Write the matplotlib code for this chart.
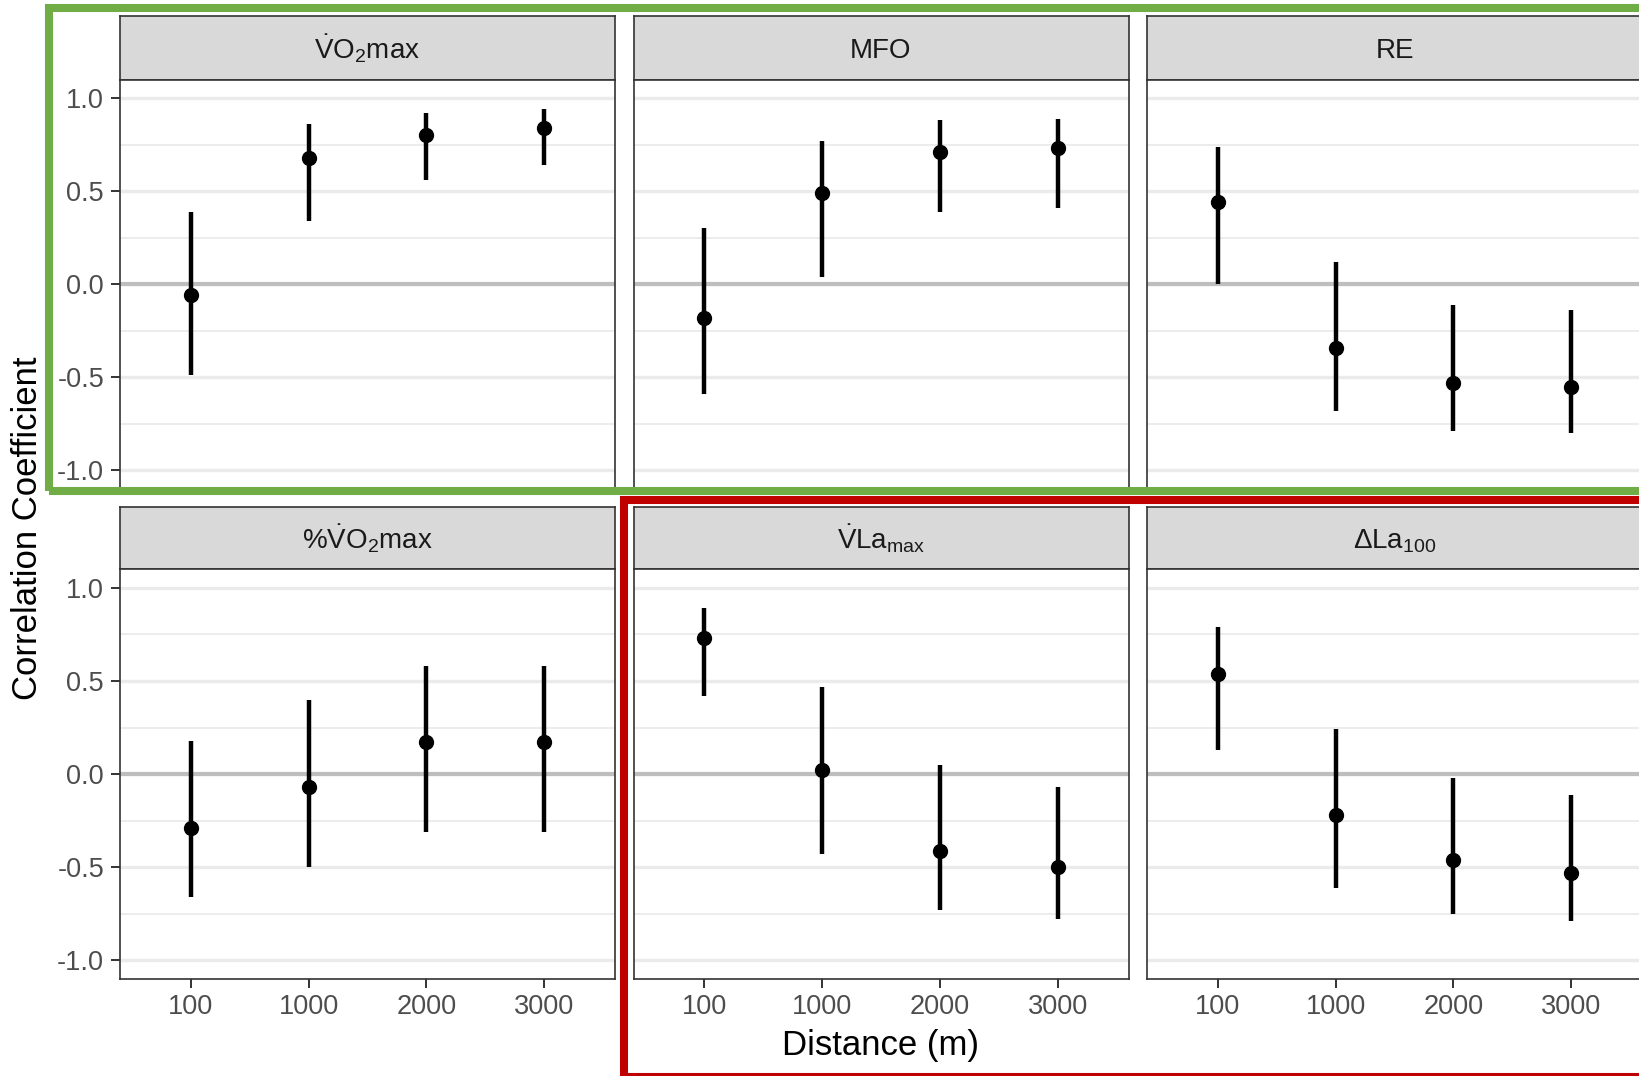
import numpy as np
import matplotlib
matplotlib.use("Agg")
import matplotlib.pyplot as plt
from matplotlib.patches import Rectangle
from matplotlib.ticker import FixedLocator, FormatStrFormatter

plt.rcParams['font.family'] = 'Liberation Sans'
plt.rcParams['mathtext.fontset'] = 'custom'
plt.rcParams['mathtext.rm'] = 'Liberation Sans'
plt.rcParams['mathtext.it'] = 'Liberation Sans:italic'
plt.rcParams['mathtext.bf'] = 'Liberation Sans:bold'
plt.rcParams['axes.unicode_minus'] = False

# Data: correlation r and its CI per swim distance
distances = ['100', '1000', '2000', '3000']

titles = [r'$\dot{\mathrm{V}}\mathrm{O}_2\mathrm{max}$',
          'MFO',
          'RE',
          r'%$\dot{\mathrm{V}}\mathrm{O}_2\mathrm{max}$',
          r'$\dot{\mathrm{V}}\mathrm{La}_{\mathrm{max}}$',
          r'$\Delta\mathrm{La}_{100}$']

vo2max_r = [-0.06, 0.68, 0.80, 0.84]
vo2max_lo = [-0.49, 0.34, 0.56, 0.64]
vo2max_hi = [0.39, 0.86, 0.92, 0.94]

mfo_r = [-0.18, 0.49, 0.71, 0.73]
mfo_lo = [-0.59, 0.04, 0.39, 0.41]
mfo_hi = [0.30, 0.77, 0.88, 0.89]

re_r = [0.44, -0.34, -0.53, -0.55]
re_lo = [0.00, -0.68, -0.79, -0.80]
re_hi = [0.74, 0.12, -0.11, -0.14]

pct_vo2max_r = [-0.29, -0.07, 0.17, 0.17]
pct_vo2max_lo = [-0.66, -0.50, -0.31, -0.31]
pct_vo2max_hi = [0.18, 0.40, 0.58, 0.58]

vlamax_r = [0.73, 0.02, -0.41, -0.50]
vlamax_lo = [0.42, -0.43, -0.73, -0.78]
vlamax_hi = [0.89, 0.47, 0.05, -0.07]

dla100_r = [0.54, -0.22, -0.46, -0.53]
dla100_lo = [0.13, -0.61, -0.75, -0.79]
dla100_hi = [0.79, 0.24, -0.02, -0.11]

series = [(vo2max_r, vo2max_lo, vo2max_hi),
          (mfo_r, mfo_lo, mfo_hi),
          (re_r, re_lo, re_hi),
          (pct_vo2max_r, pct_vo2max_lo, pct_vo2max_hi),
          (vlamax_r, vlamax_lo, vlamax_hi),
          (dla100_r, dla100_lo, dla100_hi)]

W, H = 1639, 1076
fig = plt.figure(figsize=(W / 100, H / 100), dpi=100)


def box(left, top, right, bottom):
    return [left / W, 1 - bottom / H, (right - left) / W, (bottom - top) / H]


col_left = [120, 633.5, 1147]
panel_w = 495
strip_top = [15.5, 506.5]
panel_top = [79.5, 569.3]
panel_bottom = [489, 979]

x = np.arange(len(distances))

for i, (r, lo, hi) in enumerate(series):
    row, col = divmod(i, 3)
    l = col_left[col]

    # strip
    sax = fig.add_axes(box(l, strip_top[row], l + panel_w, panel_top[row]))
    sax.set_facecolor('#D9D9D9')
    sax.set_xticks([])
    sax.set_yticks([])
    for s in sax.spines.values():
        s.set_color('#333333')
        s.set_linewidth(1.2)
    sax.text(0.5, 0.33, titles[i], ha='center', va='baseline',
             fontsize=20, color='#1A1A1A', transform=sax.transAxes)

    ax = fig.add_axes(box(l, panel_top[row], l + panel_w, panel_bottom[row]))
    ax.set_xlim(-0.6, 3.6)
    ax.set_ylim(-1.1, 1.1)
    ax.yaxis.set_major_locator(FixedLocator([-1, -0.5, 0, 0.5, 1]))
    ax.yaxis.set_minor_locator(FixedLocator([-0.75, -0.25, 0.25, 0.75]))
    ax.yaxis.set_major_formatter(FormatStrFormatter('%.1f'))
    ax.grid(axis='y', which='major', color='#EBEBEB', lw=2.4, zorder=0)
    ax.grid(axis='y', which='minor', color='#EBEBEB', lw=1.3, zorder=0)
    ax.set_axisbelow(True)
    ax.axhline(0, color='#BEBEBE', lw=3.0, zorder=1)

    ax.vlines(x, lo, hi, color='black', lw=3.2, zorder=3)
    ax.plot(x, r, 'o', color='black', markersize=10, zorder=4)

    ax.set_xticks(x)
    ax.set_xticklabels(distances)
    ax.tick_params(which='major', length=6.5, width=1.4, color='#333333',
                   labelsize=19.5, labelcolor='#4D4D4D')
    ax.tick_params(axis='y', pad=5)
    ax.tick_params(axis='x', pad=4)
    ax.tick_params(which='minor', length=0)
    if col != 0:
        ax.tick_params(axis='y', left=False, labelleft=False)
    if row == 0:
        ax.tick_params(axis='x', bottom=False, labelbottom=False)
    for s in ax.spines.values():
        s.set_color('#333333')
        s.set_linewidth(1.2)

fig.text(881 / W, 1 - 1046 / H, 'Distance (m)', ha='center', va='center',
         fontsize=25, color='black')
fig.text(28 / W, 1 - 528 / H, 'Correlation Coefficient', ha='center',
         va='center', rotation=90, fontsize=25, color='black')

# highlight boxes
green = Rectangle((49 / W, 1 - 491 / H), (1700 - 49) / W, (491 - 7.5) / H,
                  transform=fig.transFigure, fill=False, edgecolor='#70AD47',
                  lw=5.8, joinstyle='miter', zorder=10)
red = Rectangle((624 / W, 1 - 1077 / H), (1700 - 624) / W, (1077 - 500) / H,
                transform=fig.transFigure, fill=False, edgecolor='#C00000',
                lw=5.8, joinstyle='miter', zorder=11)
fig.add_artist(green)
fig.add_artist(red)

fig.savefig('out.png', dpi=100)
